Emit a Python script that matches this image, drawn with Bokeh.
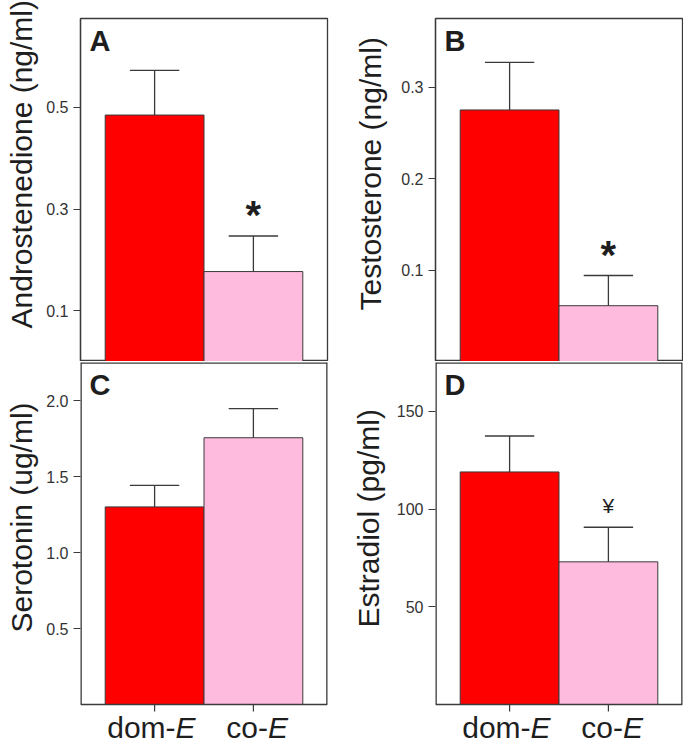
from bokeh.plotting import figure
from bokeh.models import Range1d, FixedTicker, Label, Title, ColumnDataSource
from bokeh.layouts import gridplot
from bokeh.core.properties import value
from bokeh.embed import file_html
from bokeh.resources import INLINE

# ---------------- data ----------------
groups = ["dom-E", "co-E"]
panel_letters = ["A", "B", "C", "D"]
y_titles = ["Androstenedione (ng/ml)", "Testosterone (ng/ml)",
            "Serotonin (ug/ml)", "Estradiol (pg/ml)"]

andro_mean = [0.485, 0.177]
andro_err = [0.088, 0.070]
testo_mean = [0.275, 0.061]
testo_err = [0.052, 0.033]
sero_mean = [1.300, 1.755]
sero_err = [0.142, 0.192]
estr_mean = [119.0, 73.0]
estr_err = [18.4, 17.7]

sig_marks = [["", "*"], ["", "*"], ["", ""], ["", "\u00a5"]]

y_ticks = [[0.1, 0.3, 0.5], [0.1, 0.2, 0.3], [0.5, 1.0, 1.5, 2.0], [50, 100, 150]]
y_tick_labels = [["0.1", "0.3", "0.5"], ["0.1", "0.2", "0.3"],
                 ["0.5", "1.0", "1.5", "2.0"], ["50", "100", "150"]]
y_max = [0.675, 0.375, 2.25, 175.0]

means = [andro_mean, testo_mean, sero_mean, estr_mean]
errs = [andro_err, testo_err, sero_err, estr_err]

# ---------------- style / layout ----------------
FONT = "Liberation Sans"
bar_colors = ["#FF0000", "#FFBBDD"]
edge = "#3a3a3a"
txt = "#1e1e1e"
X_LO, X_HI = 0.25, 2.75
frame_w = 247
box_h_top = 343
box_h_bot = 342
ext_bot = 41                         # px of frame below the bottom boxes (for x labels)
title_offset = [33, 51, 113, 118]    # px from frame bottom to start of y title
title_standoff = [7, 23, 7, 17]
title_valign = ["top", "bottom", "top", "bottom"]
split_offset = [21, 14.5]            # px, where the italic E starts
sig_style = {"*": dict(size="40px", style="bold", off=-21),
             "\u00a5": dict(size="21px", style="normal", off=-22)}


def make_panel(i, top_row, left_col):
    box_h = box_h_top if top_row else box_h_bot
    fh = box_h if top_row else box_h + ext_bot
    y_lo = 0 if top_row else -ext_bot * y_max[i] / box_h
    p = figure(frame_width=frame_w, frame_height=fh,
               x_range=Range1d(X_LO, X_HI), y_range=Range1d(y_lo, y_max[i]),
               output_backend="svg", toolbar_location=None, tools="",
               min_border=0)
    p.min_border_left = 80 if left_col else 100
    p.min_border_right = 8 if left_col else 1
    p.min_border_top = 18 if top_row else 1
    p.min_border_bottom = 0
    p.background_fill_color = "white"
    p.border_fill_color = "white"
    p.xgrid.visible = False
    p.ygrid.visible = False
    p.xaxis.visible = False

    xs = [k + 1 for k in range(len(groups))]
    m = means[i]
    e = errs[i]
    src = ColumnDataSource(dict(x=xs, top=m, color=bar_colors,
                                up=[a + b for a, b in zip(m, e)],
                                cl=[x - 0.25 for x in xs],
                                cr=[x + 0.25 for x in xs]))
    p.vbar(x="x", top="top", width=1.0, bottom=0, fill_color="color",
           line_color=edge, line_width=1.0, source=src)
    p.segment(x0="x", y0="top", x1="x", y1="up", line_color=edge,
              line_width=1.3, source=src)
    p.segment(x0="cl", y0="up", x1="cr", y1="up", line_color=edge,
              line_width=1.3, source=src)

    for k, s in enumerate(sig_marks[i]):
        if s:
            st = sig_style[s]
            p.text(x=[xs[k]], y=[m[k] + e[k]], text=[s], text_align="center",
                   text_baseline="alphabetic", y_offset=st["off"],
                   text_font=value(FONT), text_font_size=st["size"],
                   text_font_style=st["style"], text_color=txt)

    # y axis
    ya = p.yaxis[0]
    ya.ticker = FixedTicker(ticks=y_ticks[i])
    ya.major_label_overrides = {t: l for t, l in zip(y_ticks[i], y_tick_labels[i])}
    ya.major_label_text_font = FONT
    ya.major_label_text_font_size = "16px"
    ya.major_label_text_color = "#333333"
    ya.major_label_standoff = 5
    ya.major_tick_out = 7
    ya.major_tick_in = 0
    ya.minor_tick_out = 0
    ya.minor_tick_in = 0
    ya.major_tick_line_color = edge
    ya.major_tick_line_width = 1.2

    if top_row:
        p.outline_line_color = edge
        p.outline_line_width = 1.3
        ya.axis_line_color = edge
        ya.axis_line_width = 1.3
    else:
        p.outline_line_color = None
        ya.axis_line_color = None
        ytop = y_max[i]
        # box: left, right, top edges sit on the frame border (half clipped)
        p.segment(x0=[X_LO, X_HI, X_LO], y0=[0, 0, ytop],
                  x1=[X_LO, X_HI, X_HI], y1=[ytop, ytop, ytop],
                  line_color=edge, line_width=2.6)
        p.segment(x0=[X_LO], y0=[0], x1=[X_HI], y1=[0],
                  line_color=edge, line_width=1.3)
        tick_len = 7 * y_max[i] / box_h
        p.segment(x0=xs, y0=[0] * len(xs), x1=xs, y1=[-tick_len] * len(xs),
                  line_color=edge, line_width=1.2)
        p.text(x=xs, y=[0] * len(xs), text=[g[:-1] for g in groups],
               x_offset=split_offset, y_offset=22.5, text_align="right",
               text_baseline="alphabetic", text_font=value(FONT),
               text_font_size="30px", text_color=txt)
        p.text(x=xs, y=[0] * len(xs), text=[g[-1] for g in groups],
               x_offset=split_offset, y_offset=22.5, text_align="left",
               text_baseline="alphabetic", text_font=value(FONT),
               text_font_size="30px", text_font_style="italic", text_color=txt)

    # y title (rotated, in the left panel)
    p.add_layout(Title(text=y_titles[i], align="left", offset=title_offset[i],
                       standoff=title_standoff[i], vertical_align=title_valign[i],
                       text_font=FONT, text_font_size="30px",
                       text_font_style="normal", text_color=txt), "left")
    # panel letter
    p.add_layout(Label(x=9, y=fh - 22, x_units="screen", y_units="screen",
                       text=panel_letters[i], text_align="left",
                       text_baseline="alphabetic", text_font=FONT,
                       text_font_size="29px", text_font_style="bold",
                       text_color=txt))
    return p


pa = make_panel(0, True, True)
pb = make_panel(1, True, False)
pc = make_panel(2, False, True)
pd = make_panel(3, False, False)

grid = gridplot([[pa, pb], [pc, pd]], toolbar_location=None)

with open("out.html", "w") as f:
    f.write(file_html(grid, INLINE))
